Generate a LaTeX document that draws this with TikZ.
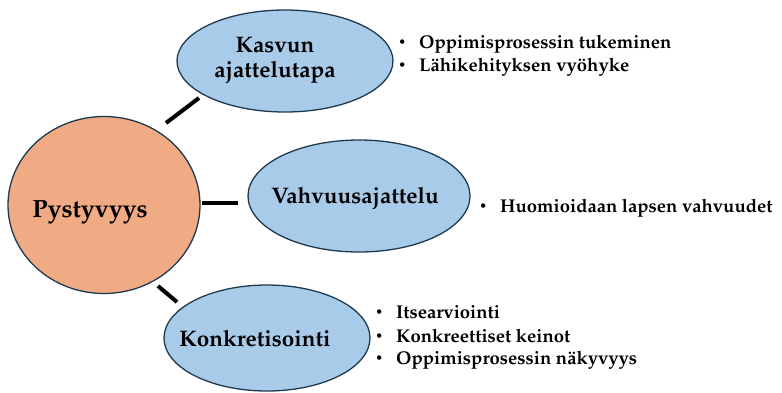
\documentclass[tikz,border=0pt]{standalone}
\usepackage[T1]{fontenc}
\usepackage{mathpazo}
\usetikzlibrary{shapes.geometric}
\definecolor{bluefill}{HTML}{A9CBEA}
\definecolor{orangefill}{HTML}{F0AA84}
\definecolor{edgecol}{HTML}{1E3A4F}
\newcommand{\bitem}[1]{\makebox[22pt][l]{\hspace{1.2pt}\raisebox{1.8pt}{\scalebox{0.7}{\textbullet}}}#1}
\begin{document}
\begin{tikzpicture}[x=1pt,y=-1pt,
  bubble/.style={ellipse, draw=edgecol, line width=1.3pt, fill=bluefill, inner sep=0pt},
  hub/.style={ellipse, draw=edgecol, line width=1.3pt, fill=orangefill, inner sep=0pt},
  lbl/.style={anchor=base, inner sep=0pt, align=center, font=\bfseries\fontsize{22.5}{25}\selectfont},
  bul/.style={anchor=base west, inner sep=0pt, font=\bfseries\fontsize{18.5}{20}\selectfont},
  link/.style={line width=4pt, black}]
\useasboundingbox (0,0) rectangle (782,392);
% shapes
\node[hub, minimum width=192pt, minimum height=177pt] (p) at (104,205) {};
\node[bubble, minimum width=216pt, minimum height=102pt] (k) at (285,61) {};
\node[bubble, minimum width=222pt, minimum height=112pt] (v) at (359,196) {};
\node[bubble, minimum width=206pt, minimum height=106pt] (c) at (267,338) {};
% labels
\node[lbl, font=\bfseries\fontsize{25}{28}\selectfont] (pt) at (90,217) {Pystyvyys};
\node[lbl] (kt) at (275,77) {Kasvun\\ajattelutapa};
\node[lbl] (vt) at (355,203) {Vahvuusajattelu};
\node[lbl] (ct) at (255,346) {Konkretisointi};
% connectors
\coordinate (a1) at (166,123); \coordinate (b1) at (199,98);
\coordinate (a2) at (202,203); \coordinate (b2) at (238,203);
\coordinate (a3) at (158,286); \coordinate (b3) at (177,302);
\draw[link] (a1) -- (b1);
\draw[link] (a2) -- (b2);
\draw[link] (a3) -- (b3);
% bullet lists
\node[bul] (k1) at (397,48) {\bitem{Oppimisprosessin tukeminen}};
\node[bul] (k2) at (397,71) {\bitem{L\"ahikehityksen vy\"ohyke}};
\node[bul] (v1) at (478,212) {\bitem{Huomioidaan lapsen vahvuudet}};
\node[bul] (c1) at (374,318) {\bitem{Itsearviointi}};
\node[bul] (c2) at (374,342) {\bitem{Konkreettiset keinot}};
\node[bul] (c3) at (374,364) {\bitem{Oppimisprosessin n\"akyvyys}};
\end{tikzpicture}
\end{document}
